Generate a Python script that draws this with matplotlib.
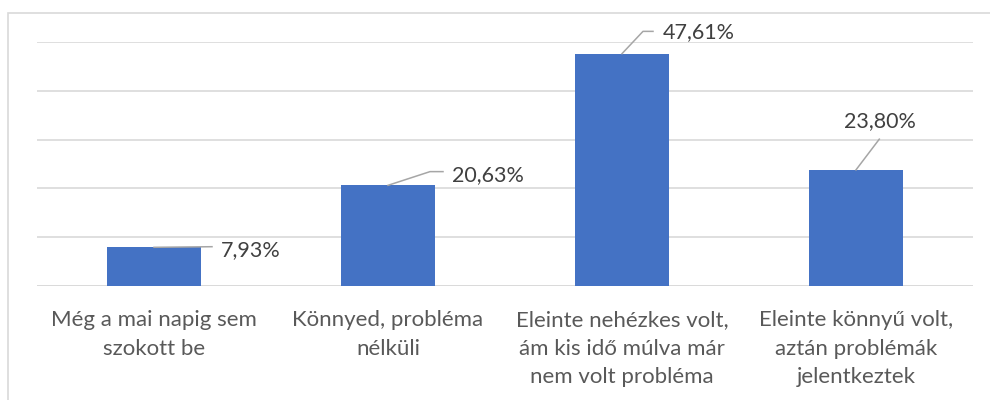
import matplotlib
matplotlib.use("Agg")
import matplotlib.pyplot as plt
from matplotlib.patches import Rectangle

categories = [
    "Még a mai napig sem\nszokott be",
    "Könnyed, probléma\nnélküli",
    "Eleinte nehézkes volt,\nám kis idő múlva már\nnem volt probléma",
    "Eleinte könnyű volt,\naztán problémák\njelentkeztek",
]
values = [7.93, 20.63, 47.61, 23.80]
value_labels = ["7,93%", "20,63%", "47,61%", "23,80%"]

# leader-line / label offsets in pixels relative to bar top centre (style only)
leader_offsets = [
    {"pts": [(0, 0), (58, 0.6)], "text": (67, -2.5), "ha": "left"},
    {"pts": [(0, 0), (42, 13.7), (55, 13.7)], "text": (64, 10.7), "ha": "left"},
    {"pts": [(0, 0), (21, 22.3), (31, 22.3)], "text": (41, 21.5), "ha": "left"},
    {"pts": [(0, 0), (23.3, 30.7)], "text": (24, 48.3), "ha": "center"},
]

W, H = 990, 400
DPI = 100
plt.rcParams["font.family"] = ["Lato", "DejaVu Sans"]

fig = plt.figure(figsize=(W / DPI, H / DPI), dpi=DPI)
fig.patch.set_facecolor("white")

# outer chart border (extends past right/bottom edges)
fig.patches.append(Rectangle((8 / W, -0.05), 1.2, (H - 13) / H + 0.05,
                             transform=fig.transFigure, fill=False,
                             edgecolor="#d9d9d9", linewidth=1.2))

ax = fig.add_axes([37 / W, (H - 286) / H, (973 - 37) / W, (286 - 42) / H])
x = list(range(len(values)))
ax.bar(x, values, width=0.4, color="#4472c4", zorder=3)
ax.set_xlim(-0.5, len(values) - 0.5)
ax.set_ylim(0, 50)
ax.set_yticks([0, 10, 20, 30, 40, 50])
ax.yaxis.grid(True, color="#d9d9d9", linewidth=1.2, zorder=0)
ax.set_axisbelow(True)
ax.tick_params(axis="y", left=False, labelleft=False)
ax.tick_params(axis="x", length=0, pad=17.5)
ax.set_xticks(x)
ax.set_xticklabels(categories, fontsize=16, color="#595959", linespacing=1.52)
for s in ax.spines.values():
    s.set_visible(False)
ax.axhline(0, color="#d9d9d9", linewidth=1.2, zorder=1)

fig.canvas.draw()
to_disp = ax.transData.transform
to_data = ax.transData.inverted().transform
for i, (v, lab, off) in enumerate(zip(values, value_labels, leader_offsets)):
    ax0, ay0 = to_disp((i, v))
    pts = [to_data((ax0 + dx, ay0 + dy)) for dx, dy in off["pts"]]
    ax.plot([p[0] for p in pts], [p[1] for p in pts], color="#a6a6a6",
            linewidth=1.1, zorder=4, clip_on=False)
    tx, ty = to_data((ax0 + off["text"][0], ay0 + off["text"][1]))
    ax.text(tx, ty, lab, ha=off["ha"], va="center", fontsize=15.5,
            color="#404040", zorder=5, clip_on=False)

fig.savefig("out.png", dpi=DPI)
